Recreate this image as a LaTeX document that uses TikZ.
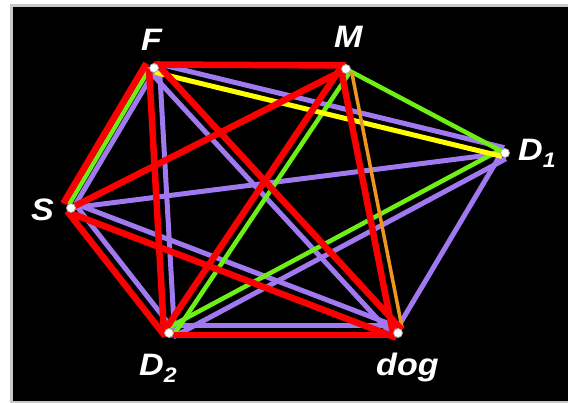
\documentclass[tikz,border=0pt]{standalone}
\usepackage{fontspec}
\setmainfont{Liberation Sans}
\newfontfamily\labfont[FakeStretch=1.1]{Liberation Sans}
\usetikzlibrary{calc}
\definecolor{rd}{RGB}{250,0,0}
\definecolor{pu}{RGB}{160,120,240}
\definecolor{gr}{RGB}{110,240,20}
\definecolor{ye}{RGB}{255,255,0}
\definecolor{org}{RGB}{240,150,30}
\definecolor{frame}{RGB}{200,200,200}
\newcommand\edgeline[4]{%
  \draw[#1] ($(#3)!#2!90:(#4)$) -- ($(#4)!#2!-90:(#3)$);}
\tikzset{
  pur/.style={draw=pu,line width=5pt,shorten <=2pt,shorten >=2pt},
  grn/.style={draw=gr,line width=4.5pt,shorten <=2pt,shorten >=2pt},
  yel/.style={draw=ye,line width=5pt,shorten <=2pt,shorten >=2pt},
  orn/.style={draw=org,line width=3.5pt,shorten <=4pt,shorten >=4pt},
  redl/.style={draw=rd,line width=6.5pt,postaction={draw=rd,line width=3pt}},
  vdot/.style={circle,fill=white,draw=gray!70,line width=0.8pt,inner sep=0pt,minimum size=9pt},
  lab/.style={text=white,font=\labfont\fontsize{31}{31}\selectfont\bfseries\itshape,inner sep=0pt,anchor=base west},
}
\newcommand\sub[1]{\raisebox{-7pt}{\fontsize{21}{21}\selectfont #1}}
\begin{document}
\begin{tikzpicture}[x=1pt,y=-1pt]
\useasboundingbox (0,0) rectangle (568,403);
\fill[white] (0,0) rectangle (568,403);
\fill[frame] (10,4) rectangle (568,403);
\fill[black] (13,7) rectangle (568,401);
\coordinate (F) at (154,68);
\coordinate (M) at (346,69);
\coordinate (D1) at (505,153);
\coordinate (S) at (71,208);
\coordinate (D2) at (169,333);
\coordinate (dog) at (398,333);
% purple
\edgeline{pur}{2pt}{F}{S}
\edgeline{pur}{5pt}{F}{D1}
\edgeline{pur}{5.5pt}{F}{D2}
\edgeline{pur}{-5.5pt}{F}{dog}
\edgeline{pur}{0pt}{S}{D1}
\edgeline{pur}{5.5pt}{S}{dog}
\edgeline{pur}{5.5pt}{S}{D2}
\edgeline{pur}{-5.5pt}{D2}{D1}
\edgeline{pur}{7pt}{D2}{dog}
\edgeline{pur}{3pt}{dog}{D1}
% green
\edgeline{grn}{-3.5pt}{F}{S}
\edgeline{grn}{5pt}{M}{D2}
\edgeline{grn}{0pt}{M}{D1}
\edgeline{grn}{5pt}{D2}{D1}
% yellow, orange
\edgeline{yel}{-4pt}{F}{D1}
\edgeline{orn}{5pt}{M}{dog}
% red
\edgeline{redl}{-9pt}{F}{S}
\edgeline{redl}{3.5pt}{F}{M}
\edgeline{redl}{-5pt}{F}{D2}
\edgeline{redl}{5pt}{F}{dog}
\edgeline{redl}{0pt}{M}{S}
\edgeline{redl}{-5pt}{M}{D2}
\edgeline{redl}{-5pt}{M}{dog}
\edgeline{redl}{-5pt}{S}{dog}
\edgeline{redl}{-5pt}{S}{D2}
\edgeline{redl}{-2pt}{D2}{dog}
% vertices
\node[vdot] (nF) at (F) {};
\node[vdot] (nM) at (M) {};
\node[vdot] (nD1) at (D1) {};
\node[vdot] (nS) at (S) {};
\node[vdot] (nD2) at (D2) {};
\node[vdot] (ndog) at (dog) {};
% labels
\node[lab] (lF) at (141,51) {F};
\node[lab] (lM) at (334,48) {M};
\node[lab] (lD1) at (518,161) {D\sub{1}};
\node[lab] (lS) at (31,221) {S};
\node[lab] (lD2) at (139,376) {D\sub{2}};
\node[lab] (ldog) at (376,376) {dog};
\end{tikzpicture}
\end{document}
